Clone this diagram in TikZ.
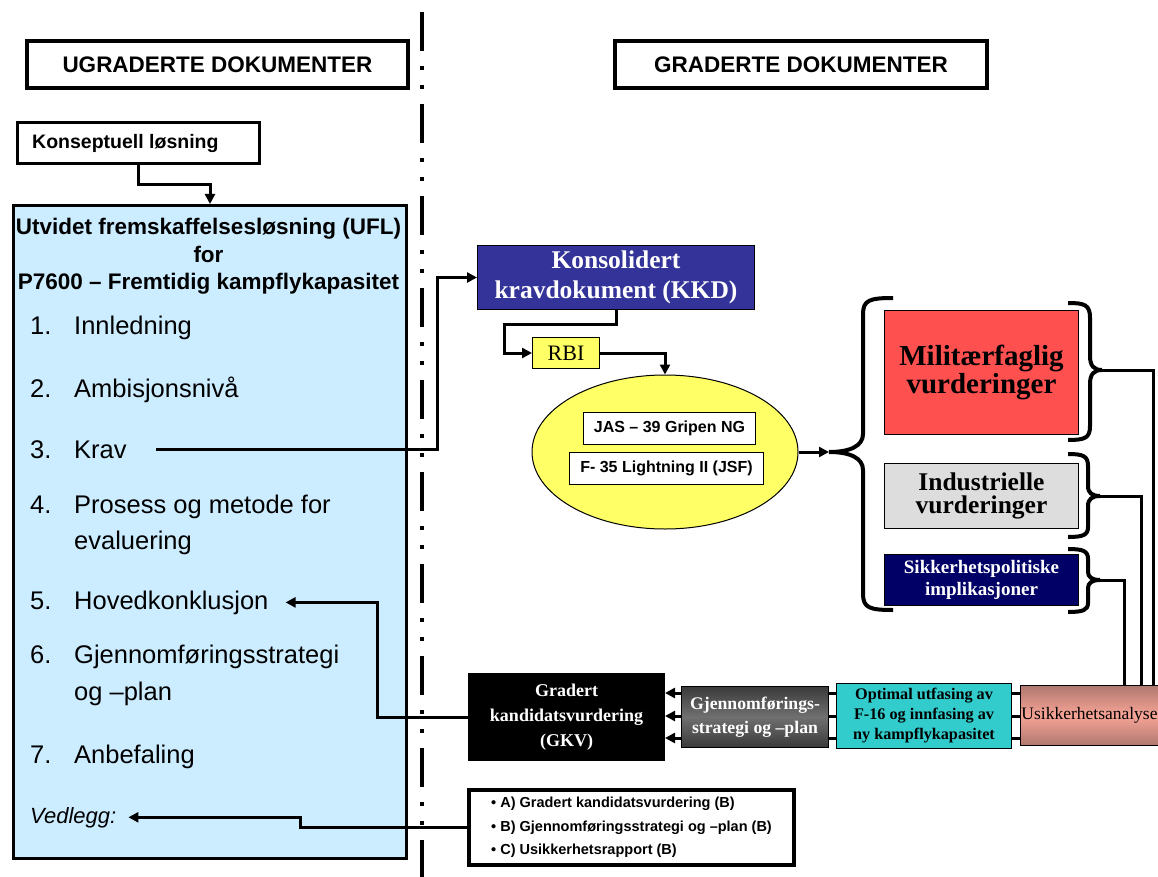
\documentclass[tikz,border=0pt]{standalone}
\usepackage{fontspec}
\setmainfont{Liberation Sans}
\newfontfamily\tmf{Liberation Serif}
\usetikzlibrary{arrows.meta,shapes.geometric,calc}
\definecolor{lblue}{HTML}{CCECFF}
\definecolor{kkdblue}{HTML}{333399}
\definecolor{yel}{HTML}{FFFF66}
\definecolor{redbox}{HTML}{FF5050}
\definecolor{graybox}{HTML}{DDDDDD}
\definecolor{navybox}{HTML}{000066}
\definecolor{turq}{HTML}{33CCCC}
\definecolor{salmon}{HTML}{F6A496}
\definecolor{salmondark}{HTML}{B07870}
\definecolor{dgray}{HTML}{707070}
\definecolor{ddgray}{HTML}{3A3A3A}
\newcommand{\fs}[2]{\fontsize{#1}{#2}\selectfont}
\begin{document}
\begin{tikzpicture}[x=1pt,y=-1pt,
  arr/.style={line width=3pt,-{Triangle[length=10pt,width=10pt]}},
  conn/.style={line width=3pt},
  brace/.style={line width=4pt},
  bx/.style={draw,anchor=north west,inner sep=0pt,align=center},
  tx/.style={anchor=base west,inner sep=0pt},
  listf/.style={font=\fs{25.5}{30}},
  hdrf/.style={font=\bfseries\fs{22.5}{27}},
  divider/.style={line width=4pt,dash pattern=on 39pt off 15pt on 4pt off 15pt on 4pt off 15pt}
]
\useasboundingbox (0,0) rectangle (1158,877);
\fill[white] (0,0) rectangle (1158,877);

% divider
\coordinate (dtop) at (422,12);
\coordinate (dbot) at (422,880);
\draw[divider] (dtop) -- (dbot);

% headers
\node[bx,line width=4pt,minimum width=381,minimum height=47,hdrf] (ugr) at (25,39) {UGRADERTE DOKUMENTER};
\node[bx,line width=4pt,minimum width=372,minimum height=47,hdrf] (gra) at (613,39) {GRADERTE DOKUMENTER};

% konseptuell
\node[bx,line width=3pt,minimum width=242,minimum height=41] (kons) at (16,121) {};
\node[tx,font=\bfseries\fs{19.5}{23}] (konst) at (32,149) {Konseptuell løsning};

% UFL box
\node[bx,line width=3pt,fill=lblue,minimum width=393,minimum height=653] (ufl) at (12,204) {};
\node[anchor=base,inner sep=0pt,hdrf] (t1) at (208.5,235) {Utvidet fremskaffelsesløsning (UFL)};
\node[anchor=base,inner sep=0pt,hdrf] (t2) at (208.5,262) {for};
\node[anchor=base,inner sep=0pt,hdrf] (t3) at (208.5,289) {P7600 – Fremtidig kampflykapasitet};

\node[tx,listf] (n1) at (30,334) {1.};
\node[tx,listf] (item1) at (74,334) {Innledning};
\node[tx,listf] (n2) at (30,397) {2.};
\node[tx,listf] (item2) at (74,397) {Ambisjonsnivå};
\node[tx,listf] (n3) at (30,458) {3.};
\node[tx,listf] (item3) at (74,458) {Krav};
\node[tx,listf] (n4) at (30,513) {4.};
\node[tx,listf] (item4) at (74,513) {Prosess og metode for};
\node[tx,listf] (item4b) at (74,549) {evaluering};
\node[tx,listf] (n5) at (30,609) {5.};
\node[tx,listf] (item5) at (74,609) {Hovedkonklusjon};
\node[tx,listf] (n6) at (30,663) {6.};
\node[tx,listf] (item6) at (74,663) {Gjennomføringsstrategi};
\node[tx,listf] (item6b) at (74,700) {og –plan};
\node[tx,listf] (n7) at (30,763) {7.};
\node[tx,listf] (item7) at (74,763) {Anbefaling};
\node[tx,font=\itshape\fs{22}{26}] (vedl) at (30,823) {Vedlegg:};

% KKD, RBI, ellipse
\node[bx,fill=kkdblue,line width=1pt,minimum width=277,minimum height=64,text=white,font=\tmf\bfseries\fs{25.5}{30}] (kkd) at (477,245) {Konsolidert\\kravdokument (KKD)};
\node[bx,fill=yel,line width=1pt,minimum width=67,minimum height=31,font=\tmf\fs{22}{24}] (rbi) at (532,337) {RBI};
\node[ellipse,draw,line width=1pt,fill=yel,minimum width=266,minimum height=154,inner sep=0pt] (ell) at (665,452) {};
\node[bx,fill=white,line width=1pt,minimum width=172,minimum height=32,font=\bfseries\fs{16}{19}] (jas) at (583,412) {JAS – 39 Gripen NG};
\node[bx,fill=white,line width=1pt,minimum width=194,minimum height=32,font=\bfseries\fs{16}{19}] (f35) at (569,452) {F- 35 Lightning II (JSF)};

% evaluation boxes
\node[bx,fill=redbox,line width=1pt,minimum width=194,minimum height=124,font=\tmf\bfseries\fs{29}{25}] (mil) at (884,310) {Militærfaglig\\vurderinger};
\node[bx,fill=graybox,line width=1pt,minimum width=194,minimum height=65,font=\tmf\bfseries\fs{25.5}{23}] (ind) at (884,463) {Industrielle\\vurderinger};
\node[bx,fill=navybox,line width=1pt,minimum width=194,minimum height=51,text=white,font=\tmf\bfseries\fs{19}{22}] (sik) at (884,554) {Sikkerhetspolitiske\\implikasjoner};

% bottom row
\node[bx,top color=salmondark,bottom color=salmondark,middle color=salmon,line width=1pt,minimum width=138,minimum height=60,font=\tmf\fs{17.5}{21}] (usik) at (1020,685) {Usikkerhetsanalyse};
\node[bx,fill=turq,line width=1pt,minimum width=175,minimum height=65,font=\tmf\bfseries\fs{16.2}{20}] (opt) at (836,683) {Optimal utfasing av\\F-16 og innfasing av\\ny kampflykapasitet};
\node[bx,top color=ddgray,bottom color=ddgray,middle color=dgray,line width=1pt,minimum width=147,minimum height=61,text=white,font=\tmf\bfseries\fs{17.7}{24}] (gjf) at (681,686) {Gjennomførings-\\strategi og –plan};
\node[bx,fill=black,line width=1pt,minimum width=196,minimum height=87,text=white,font=\tmf\bfseries\fs{18}{25}] (gkv) at (468,673) {Gradert\\kandidatsvurdering\\(GKV)};

% vedlegg box
\node[bx,line width=4pt,minimum width=325,minimum height=75,align=left,font=\bfseries\fs{14.5}{23.5}] (ved) at (467,788) {• A) Gradert kandidatsvurdering (B)\\• B) Gjennomføringsstrategi og –plan (B)\\• C) Usikkerhetsrapport (B)};

% braces
\coordinate (lbt) at (829,452);
\draw[brace] (893,298) .. controls (870,298) and (863,300) .. (863,314) -- (863,434) .. controls (863,446) and (850,452) .. (lbt) .. controls (850,452) and (863,458) .. (863,470) -- (863,594) .. controls (863,608) and (870,610) .. (893,610);
\coordinate (bt1) at (1102,370);
\coordinate (bt2) at (1100,496);
\coordinate (bt3) at (1100,580);
\draw[brace] (1068,303) .. controls (1085,303) and (1090,305) .. (1090,318) -- (1090,356) .. controls (1090,366) and (1094,370) .. (bt1) .. controls (1094,370) and (1090,374) .. (1090,384) -- (1090,426) .. controls (1090,438) and (1085,440) .. (1068,440);
\draw[brace] (1068,454) .. controls (1083,454) and (1088,456) .. (1088,466) -- (1088,486) .. controls (1088,493) and (1092,496) .. (bt2) .. controls (1092,496) and (1088,499) .. (1088,506) -- (1088,527) .. controls (1088,535) and (1083,537) .. (1068,537);
\draw[brace] (1068,549) .. controls (1083,549) and (1088,551) .. (1088,559) -- (1088,572) .. controls (1088,577) and (1092,580) .. (bt3) .. controls (1092,580) and (1088,583) .. (1088,588) -- (1088,603) .. controls (1088,610) and (1083,612) .. (1068,612);

% connectors
\draw[arr] (kons.south) -- ++(0,20) -| (ufl.north);
\draw[arr,shorten <=29pt] (item3.east) -- ++(311,0) |- (kkd.west);
\draw[arr] (kkd.south) -- ++(0,14) -- ++(-112,0) |- (rbi.west);
\draw[arr] (rbi.east) -| (ell.north);
\draw[arr] (ell.east) -- (lbt);
\draw[conn] (bt1) -| ([xshift=133pt]usik.north west);
\draw[conn] (bt2) -| ([xshift=121pt]usik.north west);
\draw[conn] (bt3) -| ([xshift=104pt]usik.north west);

\coordinate (r1) at (0,693);
\coordinate (r2) at (0,716);
\coordinate (r3) at (0,738);
\draw[conn] (usik.west |- r1) -- (opt.east |- r1);
\draw[conn] (usik.west |- r2) -- (opt.east |- r2);
\draw[conn] (usik.west |- r3) -- (opt.east |- r3);
\draw[conn] (opt.west |- r1) -- (gjf.east |- r1);
\draw[conn] (opt.west |- r2) -- (gjf.east |- r2);
\draw[conn] (opt.west |- r3) -- (gjf.east |- r3);
\draw[arr] (gjf.west |- r1) -- (gkv.east |- r1);
\draw[arr] (gjf.west |- r2) -- (gkv.east |- r2);
\draw[arr] (gjf.west |- r3) -- (gkv.east |- r3);

\draw[arr,shorten >=17pt] (gkv.west) -- ++(-91,0) |- (item5.east);
\draw[arr,shorten >=12pt] (ved.west) -- ++(-167,0) |- (vedl.east);
\end{tikzpicture}
\end{document}
